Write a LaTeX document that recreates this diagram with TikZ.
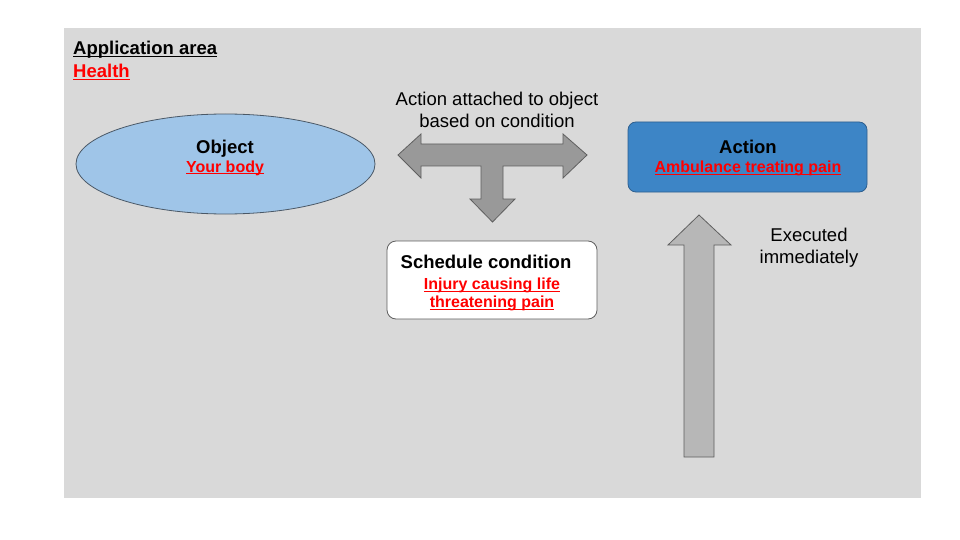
\documentclass[tikz,border=0pt]{standalone}
\usepackage{fontspec}
\setmainfont{Liberation Sans}
\usetikzlibrary{shapes.geometric}
\definecolor{bggray}{HTML}{D9D9D9}
\definecolor{objfill}{HTML}{9FC5E8}
\definecolor{objline}{HTML}{4A5866}
\definecolor{actfill}{HTML}{3D85C6}
\definecolor{actline}{HTML}{2E5F8F}
\definecolor{arrfill}{HTML}{999999}
\definecolor{uparrfill}{HTML}{B7B7B7}
\definecolor{arrline}{HTML}{5F5F5F}
\definecolor{redtxt}{HTML}{FF0000}
\newcommand\myul[1]{\underline{\smash{#1}}}
\tikzset{
  titletxt/.style={font=\fontsize{18.5}{22}\selectfont\bfseries, text=black, inner sep=0pt, anchor=base},
  redlbl/.style={font=\fontsize{16}{19}\selectfont\bfseries, text=redtxt, inner sep=0pt, anchor=base},
  plaintxt/.style={font=\fontsize{18.5}{22}\selectfont, text=black, inner sep=0pt, anchor=base},
  blockarrow/.style={draw=arrline, line width=0.8pt, line join=miter},
}
\begin{document}
\begin{tikzpicture}[x=1pt,y=-1pt]
\useasboundingbox (0,0) rectangle (960,540);
% background
\fill[bggray] (64,28) rectangle (921,498);
% application area
\node[titletxt, anchor=base west] (apparea) at (73,55) {\myul{Application area}};
\node[redlbl, font=\fontsize{18.5}{22}\selectfont\bfseries, anchor=base west] (health) at (73,78) {\myul{Health}};
% object ellipse
\node[ellipse, draw=objline, fill=objfill, line width=0.8pt, minimum width=299pt, minimum height=100pt, inner sep=0pt] (obj) at (225.5,164) {};
\node[titletxt] (objt) at (225,153.5) {Object};
\node[redlbl] (objr) at (225,172) {\myul{Your body}};
% action box
\node[draw=actline, fill=actfill, rounded corners=8pt, line width=0.8pt, minimum width=239pt, minimum height=70pt, inner sep=0pt] (act) at (747.5,157) {};
\node[titletxt] (actt) at (748,154) {Action};
\node[redlbl] (actr) at (748,173) {\myul{Ambulance treating pain}};
% schedule condition box
\node[draw=arrline, fill=white, rounded corners=9pt, line width=0.8pt, minimum width=210pt, minimum height=78pt, inner sep=0pt] (sched) at (492,280) {};
\node[titletxt] (schedt) at (486,268) {Schedule condition};
\node[redlbl] (schedr1) at (492,289.5) {\myul{Injury causing life}};
\node[redlbl] (schedr2) at (492,307.5) {\myul{threatening pain}};
% caption above three-way arrow
\node[plaintxt] (cap1) at (497,106) {Action attached to object};
\node[plaintxt] (cap2) at (497,127.5) {based on condition};
% three-way block arrow
\draw[blockarrow, fill=arrfill]
  (398,155) -- (421,134) -- (421,144) -- (563,144) -- (563,134) -- (587,155)
  -- (563,178) -- (563,166) -- (503,166) -- (503,199) -- (515,199) -- (492.5,222)
  -- (470,199) -- (481,199) -- (481,166) -- (421,166) -- (421,178) -- cycle;
% up block arrow
\draw[blockarrow, fill=uparrfill]
  (699,215) -- (731,245) -- (714,245) -- (714,457) -- (684,457) -- (684,245) -- (668,245) -- cycle;
% executed text
\node[plaintxt] (exe1) at (809,241.5) {Executed};
\node[plaintxt] (exe2) at (809,263.5) {immediately};
\end{tikzpicture}
\end{document}
